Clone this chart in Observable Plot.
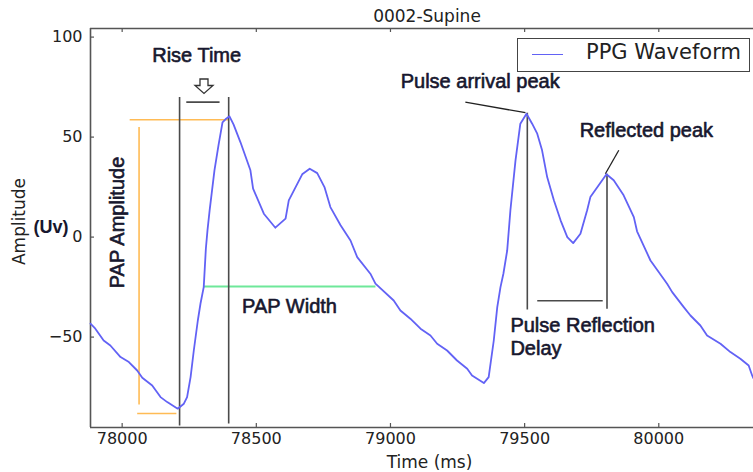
<!DOCTYPE html>
<html>
<head>
<meta charset="utf-8">
<script src="https://cdn.jsdelivr.net/npm/d3@7"></script>
<script src="https://cdn.jsdelivr.net/npm/@observablehq/plot@0.6"></script>
<style>
  html, body { margin: 0; padding: 0; background: #fff; }
  #wrap { position: relative; width: 753px; height: 472px; overflow: hidden; }
  #legend { position: absolute; left: 517px; top: 38px; width: 233px; height: 34px;
            border: 1px solid #444; background: #fff; box-sizing: border-box; }
  #legend .swatch { position: absolute; left: 14px; top: 15px; width: 31px; height: 0;
                    border-top: 1.8px solid #6262f5; }
  #legend .label { position: absolute; left: 68px; top: 3px; font: 21px/21px "DejaVu Sans", sans-serif;
                   color: #222; white-space: nowrap; }
</style>
</head>
<body>
<div id="wrap">
  <div id="chart"></div>
  <div id="legend"><div class="swatch"></div><div class="label">PPG Waveform</div></div>
</div>
<script>
// ---- waveform ----
const timeMs = [77882, 77900, 77931, 77956, 77994, 78025, 78056, 78075, 78112, 78143, 78168, 78207,
  78230, 78242, 78255, 78267, 78282, 78292, 78304, 78312, 78318, 78326, 78344, 78359, 78374, 78385,
  78400, 78415, 78441, 78478, 78488, 78528, 78571, 78609, 78621, 78671, 78699, 78727, 78754, 78776,
  78814, 78851, 78876, 78925, 78944, 79012, 79037, 79074, 79112, 79149, 79174, 79211, 79248, 79286,
  79304, 79348, 79366, 79385, 79398, 79410, 79421, 79435, 79447, 79466, 79484, 79507, 79528, 79547,
  79565, 79584, 79609, 79634, 79659, 79681, 79708, 79733, 79745, 79776, 79805, 79832, 79869, 79907,
  79919, 79969, 80031, 80050, 80093, 80118, 80155, 80180, 80230, 80267, 80304, 80335, 80348, 80353];
const amplitude = [-43.3, -45.8, -51.7, -54.2, -60, -62.5, -66.7, -70.3, -74.2, -80, -82.5, -85.8,
  -83.3, -80, -70, -56.7, -41.7, -33.2, -25, -5.7, 3.4, 13.4, 33.4, 45.9, 57.4, 58.9,
  60.4, 56.4, 47.4, 33.4, 24.2, 11.7, 4.7, 9.2, 18.4, 31.4, 34.2, 32, 25, 15,
  5.9, -1.7, -10, -18.3, -23.3, -31.7, -36.7, -40.8, -45.8, -49.2, -53.3, -56.7, -61.7, -65.8,
  -69.2, -73, -70, -51.7, -35, -25, -18.2, -6.7, 13.4, 38.4, 56.7, 61.7, 56.7, 51.7,
  43.4, 30, 18.4, 8.4, 0, -3, 1.7, 13.4, 20, 25.9, 31.4, 28.4, 20.9, 10,
  2.9, -11.7, -23.3, -27.5, -35, -39.2, -44.2, -49.2, -53.3, -57.5, -60.8, -64.2, -69.2, -70.7];

// ---- axes ----
const xDomain = [77882, 80353];
const yDomain = [-95.2, 104.3];
const xTicks = [78000, 78500, 79000, 79500, 80000];
const yTicks = [-50, 0, 50, 100];

// ---- annotation segments (data units) ----
const grayLines = [
  {x1: 78214, y1: 70, x2: 78214, y2: -94.2},   // rise start
  {x1: 78397, y1: 70, x2: 78397, y2: -93.2},   // rise end
  {x1: 78239, y1: 67.5, x2: 78363, y2: 67.5},  // rise time bar
  {x1: 79510, y1: 62.2, x2: 79510, y2: -36.2}, // pulse arrival vertical
  {x1: 79807, y1: 31.7, x2: 79807, y2: -35.8}, // reflected vertical
  {x1: 79547, y1: -31.8, x2: 79791, y2: -31.8} // reflection delay bar
];
const pointerLines = [
  {x1: 79279, y1: 67.5, x2: 79503, y2: 62.2},
  {x1: 79851, y1: 43.4, x2: 79801, y2: 31.7}
];
const orangeLines = [
  {x1: 78028, y1: 58.7, x2: 78396, y2: 58.7},
  {x1: 78063, y1: 55, x2: 78063, y2: -83.7},
  {x1: 78056, y1: -88.2, x2: 78202, y2: -88.2}
];
const greenLines = [
  {x1: 78302, y1: -24.7, x2: 78944, y2: -24.7}
];
const labels = [
  {x: 78112, y: 91.4, text: "Rise Time"},
  {x: 79038, y: 78, text: "Pulse arrival peak"},
  {x: 79705, y: 53.7, text: "Reflected peak"},
  {x: 78447, y: -34.1, text: "PAP Width"},
  {x: 79447, y: -49.4, text: "Pulse Reflection\nDelay"}
];
const rotatedLabels = [
  {x: 77983, y: 7.3, text: "PAP Amplitude"}
];
const arrowMarks = [{x: 78305, y: 75.3}];

const wave = timeMs.map((t, i) => ({t, a: amplitude[i]}));
const fmtY = d => d < 0 ? "\u2212" + (-d) : String(d);
const ink = "#17172e";
const axisInk = "#555";
const tickLenX = 15;   // ms  (~4 px)
const tickLenY = 2;    // units (~4 px)

// open (white) down-arrow symbol
const openDownArrow = {
  draw(context, size) {
    const r = Math.sqrt(size / Math.PI) / 9;
    const pts = [[-4, -7.5], [4, -7.5], [4, -1], [9, -1], [0, 7], [-9, -1], [-4, -1]];
    context.moveTo(pts[0][0] * r, pts[0][1] * r);
    for (const [px, py] of pts.slice(1)) context.lineTo(px * r, py * r);
    context.closePath();
  }
};

const textStyle = {fontFamily: "Liberation Sans, Arial, sans-serif", fontSize: 20, fill: ink,
  stroke: ink, strokeWidth: 0.6, paintOrder: "stroke"};

const chart = Plot.plot({
  width: 753,
  height: 472,
  marginLeft: 90,
  marginRight: 0,
  marginTop: 28,
  marginBottom: 45,
  style: {fontFamily: "DejaVu Sans, sans-serif", fontSize: "16px", color: "#222", background: "#fff", overflow: "visible"},
  x: {domain: xDomain, ticks: xTicks, tickFormat: d3.format("d"), tickSize: 0, tickPadding: 5, label: null},
  y: {domain: yDomain, ticks: yTicks, tickFormat: fmtY, tickSize: 0, tickPadding: 8, label: null},
  marks: [
    // frame (left, top, bottom)
    Plot.ruleX([xDomain[0]], {stroke: axisInk, strokeWidth: 1.6}),
    Plot.ruleY([yDomain[0], yDomain[1]], {stroke: axisInk, strokeWidth: 1.6}),
    // inward ticks
    Plot.ruleY(yTicks, {x1: xDomain[0], x2: xDomain[0] + tickLenX, stroke: axisInk, strokeWidth: 1.2}),
    Plot.ruleX(xTicks, {y1: yDomain[0], y2: yDomain[0] + tickLenY, stroke: axisInk, strokeWidth: 1.2}),
    Plot.ruleX(xTicks, {y1: yDomain[1] - tickLenY, y2: yDomain[1], stroke: axisInk, strokeWidth: 1.2}),
    // annotation lines
    Plot.link(orangeLines, {x1: "x1", y1: "y1", x2: "x2", y2: "y2", stroke: "#ffbb55", strokeWidth: 1.6}),
    Plot.link(greenLines, {x1: "x1", y1: "y1", x2: "x2", y2: "y2", stroke: "#6ee89a", strokeWidth: 1.8}),
    Plot.link(grayLines, {x1: "x1", y1: "y1", x2: "x2", y2: "y2", stroke: "#4a4a4a", strokeWidth: 1.6}),
    Plot.link(pointerLines, {x1: "x1", y1: "y1", x2: "x2", y2: "y2", stroke: "#222", strokeWidth: 1.3}),
    // waveform
    Plot.line(wave, {x: "t", y: "a", stroke: "#6262f5", strokeWidth: 1.8}),
    // open arrow above rise-time bar
    Plot.dot(arrowMarks, {x: "x", y: "y", symbol: openDownArrow, r: 9, fill: "#fff", stroke: "#333", strokeWidth: 1.3}),
    // annotation texts
    Plot.text(labels, {x: "x", y: "y", text: "text", textAnchor: "start", lineAnchor: "middle",
      lineHeight: 1.15, ...textStyle}),
    Plot.text(rotatedLabels, {x: "x", y: "y", text: "text", rotate: -90, textAnchor: "middle", lineAnchor: "middle",
      ...textStyle}),
    // title & axis labels
    Plot.text(["0002-Supine"], {frameAnchor: "top", dx: 5, dy: -7, lineAnchor: "bottom",
      fontFamily: "DejaVu Sans, sans-serif", fontSize: 17, fill: "#222"}),
    Plot.text(["Time (ms)"], {frameAnchor: "bottom", dx: 7.5, dy: 40, lineAnchor: "bottom",
      fontFamily: "DejaVu Sans, sans-serif", fontSize: 17, fill: "#222"}),
    Plot.text(["Amplitude"], {frameAnchor: "left", y: [7.8], dx: -71, rotate: -90, textAnchor: "middle", lineAnchor: "middle",
      fontFamily: "DejaVu Sans, sans-serif", fontSize: 17, fill: "#222"}),
    Plot.text(["(Uv)"], {frameAnchor: "left", y: [5], dx: -57, textAnchor: "start", lineAnchor: "middle",
      fontFamily: "Liberation Sans, Arial, sans-serif", fontSize: 18, fontWeight: "bold", fill: ink})
  ]
});
document.getElementById("chart").appendChild(chart);
</script>
</body>
</html>
